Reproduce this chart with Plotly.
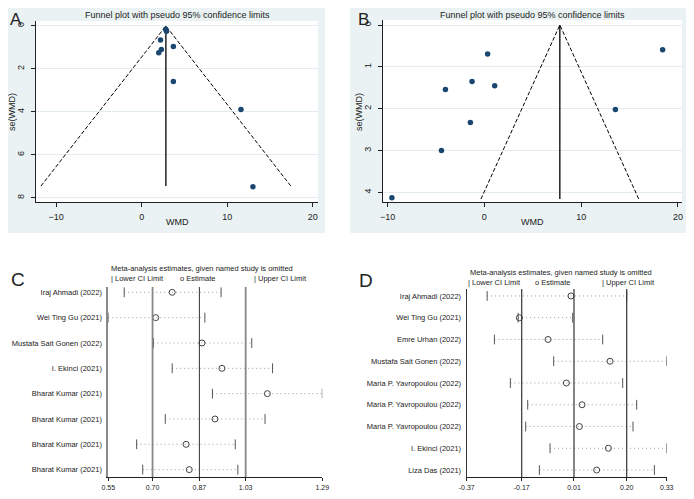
import plotly.graph_objects as go

W, H = 694, 499
OFF = 8  # the page puts the figure 8px in from the top-left corner

# ---- panel A: funnel plot ----
a_wmd = [2.8, 2.9, 2.2, 3.7, 2.3, 2.0, 3.7, 11.6, 13.0]
a_se = [0.15, 0.25, 0.65, 0.96, 1.1, 1.25, 2.58, 3.89, 7.48]
a_theta = 2.83
a_se_max = 7.45

# ---- panel B: funnel plot ----
b_wmd = [-9.55, 0.34, -1.27, -4.02, 1.07, -1.44, -4.43, 13.54, 18.42]
b_se = [4.13, 0.69, 1.35, 1.54, 1.45, 2.33, 3.0, 2.02, 0.59]
b_theta = 7.8
b_se_max = 4.16

# ---- panel C: leave-one-out ----
c_studies = ["Iraj Ahmadi (2022)", "Wei Ting Gu (2021)", "Mustafa Sait Gonen (2022)",
             "I. Ekinci (2021)", "Bharat Kumar (2021)", "Bharat Kumar (2021)",
             "Bharat Kumar (2021)", "Bharat Kumar (2021)"]
c_lower = [0.605, 0.55, 0.706, 0.771, 0.910, 0.747, 0.648, 0.669]
c_est = [0.771, 0.714, 0.874, 0.943, 1.100, 0.919, 0.819, 0.830]
c_upper = [0.940, 0.884, 1.046, 1.118, 1.290, 1.092, 0.989, 0.998]
c_overall = [0.703, 0.865, 1.025]
c_tickvals = [0.55, 0.703, 0.865, 1.025, 1.29]
c_ticktext = ["0.55", "0.70", "0.87", "1.03", "1.29"]

# ---- panel D: leave-one-out ----
d_studies = ["Iraj Ahmadi (2022)", "Wei Ting Gu (2021)", "Emre Urhan (2022)",
             "Mustafa Sait Gonen (2022)", "Maria P. Yavropoulou (2022)",
             "Maria P. Yavropoulou (2022)", "Maria P. Yavropoulou (2022)",
             "I. Ekinci (2021)", "Liza Das (2021)"]
d_lower = [-0.2985, -0.190, -0.273, -0.0655, -0.2172, -0.1565, -0.1635, -0.0783, -0.1157]
d_est = [-0.0048, -0.1857, -0.0853, 0.1317, -0.0212, 0.0337, 0.0244, 0.1259, 0.085]
d_upper = [0.190, 0.001, 0.106, 0.33, 0.176, 0.225, 0.212, 0.33, 0.2869]
d_overall = [-0.1775, 0.0055, 0.19]
d_tickvals = [-0.37, -0.1775, 0.0055, 0.19, 0.33]
d_ticktext = ["-0.37", "-0.17", "0.01", "0.20", "0.33"]

FONT = "Liberation Sans, Arial, sans-serif"
NAVY = "#1a476f"
BLUISH = "#eaf2f3"


def px_x(p):
    return (p - OFF) / W


def px_y(p):
    return 1 - (p - OFF) / H


fig = go.Figure()


def funnel(theta, se_max, wmd, se, xa, ya):
    lo = theta - 1.96 * se_max
    hi = theta + 1.96 * se_max
    fig.add_trace(go.Scatter(x=[lo, theta, hi], y=[se_max, 0, se_max], mode="lines",
                             line=dict(color="black", width=1, dash="4px,2px"),
                             xaxis=xa, yaxis=ya, showlegend=False))
    fig.add_trace(go.Scatter(x=[theta, theta], y=[0, se_max], mode="lines",
                             line=dict(color="black", width=1.3),
                             xaxis=xa, yaxis=ya, showlegend=False))
    fig.add_trace(go.Scatter(x=wmd, y=se, mode="markers",
                             marker=dict(color=NAVY, size=5.5),
                             xaxis=xa, yaxis=ya, showlegend=False))


funnel(a_theta, a_se_max, a_wmd, a_se, "x", "y")
funnel(b_theta, b_se_max, b_wmd, b_se, "x2", "y2")


def influence(lower, est, upper, xa, ya):
    rows = list(range(1, len(est) + 1))
    lx, ly = [], []
    for r, l, u in zip(rows, lower, upper):
        lx += [l, u, None]
        ly += [r, r, None]
    fig.add_trace(go.Scatter(x=lx, y=ly, mode="lines",
                             line=dict(color="#9a9a9a", width=1, dash="1px,3px"),
                             xaxis=xa, yaxis=ya, showlegend=False))
    for vals in (lower, upper):
        fig.add_trace(go.Scatter(x=vals, y=rows, mode="markers",
                                 marker=dict(symbol="line-ns", size=7,
                                             line=dict(width=1, color="#555555")),
                                 xaxis=xa, yaxis=ya, showlegend=False))
    fig.add_trace(go.Scatter(x=est, y=rows, mode="markers",
                             marker=dict(symbol="circle-open", size=6, color="#444444",
                                         line=dict(width=1)),
                             xaxis=xa, yaxis=ya, showlegend=False))


influence(c_lower, c_est, c_upper, "x3", "y3")
influence(d_lower, d_est, d_upper, "x4", "y4")

shapes = []
# grey-blue graph regions behind the funnel plots
for x0, x1 in ((3, 325), (350, 702)):
    shapes.append(dict(type="rect", xref="paper", yref="paper", x0=max(px_x(x0), 0),
                       x1=px_x(x1), y0=px_y(233), y1=min(px_y(2), 1),
                       fillcolor=BLUISH, line_width=0, layer="below"))
for ax in ("x", "x2"):
    ya = "y" if ax == "x" else "y2"
    shapes.append(dict(type="rect", xref=ax + " domain", yref=ya + " domain", x0=0, x1=1,
                       y0=0, y1=1, fillcolor="white", line_width=0, layer="below"))
# overall estimate / CI lines in C and D
for v, c, w in zip(c_overall, ["#888888", "#333333", "#888888"], [1.8, 1, 1.8]):
    shapes.append(dict(type="line", xref="x3", yref="y3 domain", x0=v, x1=v, y0=0, y1=1,
                       line=dict(color=c, width=w)))
for v in d_overall:
    shapes.append(dict(type="line", xref="x4", yref="y4 domain", x0=v, x1=v, y0=0, y1=1,
                       line=dict(color="#333333", width=1.2)))

funnel_x = dict(showline=True, linecolor="#222222", linewidth=1, ticks="outside", ticklen=4,
                tickcolor="#222222", showgrid=False, zeroline=False, automargin=False,
                tickfont=dict(size=9, color="#222222", family=FONT), ticklabelstandoff=2)
funnel_y = dict(showline=True, linecolor="#222222", linewidth=1, ticks="outside", ticklen=4,
                tickcolor="#222222", showgrid=True, gridcolor="#e3ecee", gridwidth=1,
                zeroline=False, tickangle=-90, automargin=False,
                tickfont=dict(size=9, color="#222222", family=FONT), ticklabelstandoff=3)
inf_x = dict(showline=True, linecolor="#222222", linewidth=1, ticks="outside", ticklen=3,
             tickcolor="#222222", showgrid=False, zeroline=False, automargin=False,
             tickfont=dict(size=7, color="#222222", family=FONT), ticklabelstandoff=1)
inf_y = dict(showline=True, linewidth=1, ticks="", showgrid=False, zeroline=False,
             automargin=False,
             tickfont=dict(size=7.5, color="#222222", family=FONT), ticklabelstandoff=3)

fig.update_layout(
    template="none",
    width=W, height=H, autosize=False,
    margin=dict(l=0, r=0, t=0, b=0, pad=0),
    paper_bgcolor="white", plot_bgcolor="white",
    font=dict(family=FONT, color="#222222"),
    showlegend=False,
    shapes=shapes,
    xaxis=dict(funnel_x, domain=[px_x(35.7), px_x(318)], range=[-12.38, 20.6],
               tickvals=[-10, 0, 10, 20], anchor="y"),
    yaxis=dict(funnel_y, domain=[px_y(202), px_y(21)], range=[8.19, -0.23],
               tickvals=[0, 2, 4, 6, 8], anchor="x"),
    xaxis2=dict(funnel_x, domain=[px_x(382.5), px_x(682)], range=[-10.52, 20.42],
                tickvals=[-10, 0, 10, 20], anchor="y2"),
    yaxis2=dict(funnel_y, domain=[px_y(202), px_y(20)], range=[4.23, -0.12],
                tickvals=[0, 1, 2, 3, 4], anchor="x2"),
    xaxis3=dict(inf_x, domain=[px_x(108.3), px_x(322.3)], range=[0.55, 1.29],
                tickvals=c_tickvals, ticktext=c_ticktext, anchor="y3"),
    yaxis3=dict(inf_y, linecolor="#888888", linewidth=1.8,
                domain=[px_y(477), px_y(287)], range=[8.29, 0.79],
                tickvals=list(range(1, len(c_studies) + 1)), ticktext=c_studies, anchor="x3"),
    xaxis4=dict(inf_x, domain=[px_x(466.7), px_x(666.7)], range=[-0.37, 0.33],
                tickvals=d_tickvals, ticktext=d_ticktext, anchor="y4"),
    yaxis4=dict(inf_y, linecolor="#333333", linewidth=1.2,
                domain=[px_y(477), px_y(289)], range=[9.32, 0.68],
                tickvals=list(range(1, len(d_studies) + 1)), ticktext=d_studies, anchor="x4"),
)

ann = []


def text(x, y, s, size, xanchor="center", angle=0, yanchor="middle"):
    ann.append(dict(xref="paper", yref="paper", x=px_x(x), y=px_y(y), text=s, showarrow=False,
                    xanchor=xanchor, yanchor=yanchor, textangle=angle,
                    font=dict(size=size, family=FONT, color="#222222")))


# panel letters (A and B pinned to the top edge so they are not clipped)
text(8, 8, "A", 17, "left", yanchor="top")
text(356, 8, "B", 17, "left", yanchor="top")
text(9, 279, "C", 19, "left")
text(357, 280, "D", 19, "left")
# funnel titles and axis titles
text(177, 15, "Funnel plot with pseudo 95% confidence limits", 9)
text(532, 15, "Funnel plot with pseudo 95% confidence limits", 9)
text(177, 222, "WMD", 9)
text(532, 222, "WMD", 9)
text(12, 112, "se(WMD)", 9, angle=-90)
text(359, 112, "se(WMD)", 9, angle=-90)
# influence plot headers
text(108.5, 268.5, "Meta-analysis estimates, given named study is omitted", 7.5, "left")
text(108.5, 278, "| Lower CI Limit", 7.5, "left")
text(177.5, 278, "o Estimate", 7.5, "left")
text(251.5, 278, "| Upper CI Limit", 7.5, "left")
text(468, 272.5, "Meta-analysis estimates, given named study is omitted", 7.5, "left")
text(466, 282, "| Lower CI Limit", 7.5, "left")
text(532.5, 282, "o Estimate", 7.5, "left")
text(600, 282, "| Upper CI Limit", 7.5, "left")

fig.update_layout(annotations=ann)

fig.write_html("out.html")
